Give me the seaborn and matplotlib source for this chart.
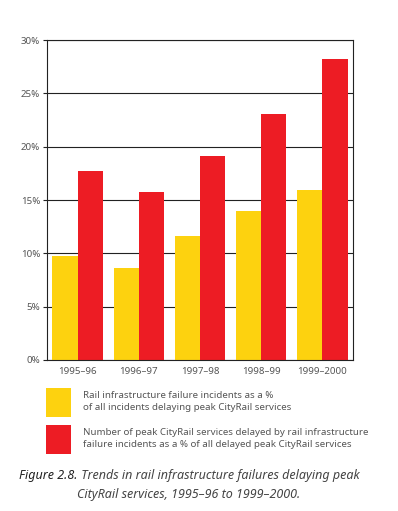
import pandas as pd
import matplotlib.pyplot as plt
import seaborn as sns
import numpy as np

# Dados
anos = ['1995–96', '1996–97', '1997–98', '1998–99', '1999–2000']
incidentes = [9.75, 8.6, 11.6, 14.0, 15.9]
servicos = [17.7, 15.75, 19.1, 23.05, 28.2]
series = ['Rail infrastructure failure incidents as a %\nof all incidents delaying peak CityRail services',
          'Number of peak CityRail services delayed by rail infrastructure\nfailure incidents as a % of all delayed peak CityRail services']

df = pd.DataFrame({
    'Ano': anos * 2,
    'Valor': incidentes + servicos,
    'Serie': [series[0]] * len(anos) + [series[1]] * len(anos),
})

sns.set_style('white')
plt.rcParams['font.family'] = ['Noto Sans', 'DejaVu Sans']
cinza = '#555555'

fig = plt.figure(figsize=(3.98, 5.11), dpi=100)
ax = fig.add_axes([0.118, 0.2955, 0.769, 0.6262])

sns.barplot(data=df, x='Ano', y='Valor', hue='Serie', palette=['#FDD20F', '#ED1C24'],
            saturation=1, width=0.82, gap=0, linewidth=0, ax=ax)

ax.set_ylim(0, 30)
ax.set_xlim(-0.5, 4.5)
ax.set_yticks(np.arange(0, 31, 5))
ax.set_yticklabels([f'{v}%' for v in range(0, 31, 5)], fontsize=7, color=cinza)
ax.set_xticks(range(len(anos)))
ax.set_xticklabels(anos, fontsize=7, color=cinza)
ax.set_xticks(np.arange(-0.5, 5, 1), minor=True)
ax.tick_params(axis='x', which='major', length=0, pad=5)
ax.tick_params(axis='x', which='minor', length=3, width=0.8, color='#222222', direction='out')
ax.tick_params(axis='y', length=3, width=0.8, color='#222222', direction='out', pad=2, left=True)
ax.set_xlabel('')
ax.set_ylabel('')
ax.yaxis.grid(True, color='#222222', linewidth=0.8)
ax.set_axisbelow(True)
for s in ax.spines.values():
    s.set_color('#222222')
    s.set_linewidth(0.8)

# Legenda abaixo do gráfico
handles, labels = ax.get_legend_handles_labels()
ax.get_legend().remove()
leg = fig.legend(handles, labels, loc='upper left', bbox_to_anchor=(46 / 398, 1 - 388 / 511),
                 frameon=False, fontsize=7.0, labelcolor=cinza, borderpad=0, borderaxespad=0,
                 handlelength=2.6, handleheight=4.24, handletextpad=1.2, labelspacing=0.8)
for t in leg.get_texts():
    t.set_linespacing(1.5)

# Legenda da figura
t1 = fig.text(19 / 398, 1 - 479 / 511, 'Figure 2.8.', ha='left', va='baseline',
              fontsize=9, style='italic', color='#222222')
plt.annotate(' Trends in rail infrastructure failures delaying peak', xy=(1, 0), xycoords=t1,
             va='bottom', ha='left', fontsize=9, style='italic', color='#444444',
             annotation_clip=False)
fig.text(189 / 398, 1 - 498 / 511, 'CityRail services, 1995–96 to 1999–2000.',
         ha='center', va='baseline', fontsize=9, style='italic', color='#444444')

plt.savefig('out.png', dpi=100)
